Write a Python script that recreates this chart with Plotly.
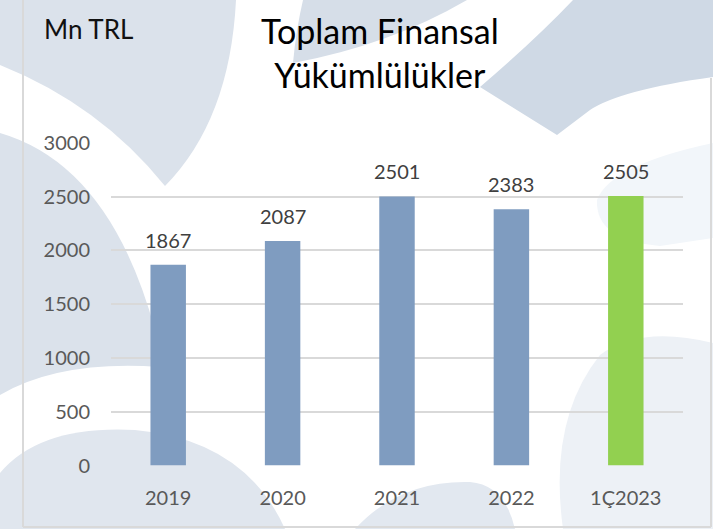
import plotly.graph_objects as go

# ---- data ----
categories = ["2019", "2020", "2021", "2022", "1Ç2023"]
values = [1867, 2087, 2501, 2383, 2505]
bar_colors = ["#7f9cc0", "#7f9cc0", "#7f9cc0", "#7f9cc0", "#92d050"]
y_ticks = [0, 500, 1000, 1500, 2000, 2500, 3000]
title_text = "Toplam Finansal<br>Yükümlülükler"
unit_text = "Mn TRL"

W, H = 713, 529
FONT = "Lato, 'Noto Sans', sans-serif"


def px(x):
    return x / W


def py(y):
    return 1 - y / H


def path(cmds):
    out = []
    for c in cmds:
        op, nums = c[0], c[1:]
        pts = []
        for i in range(0, len(nums), 2):
            pts.append(f"{px(nums[i]):.5f},{py(nums[i+1]):.5f}")
        out.append(op + " " + " ".join(pts))
    return " ".join(out)


bg_shapes = [
    # top-left leaf
    ("#dbe2eb", [("M", 0, 0), ("L", 236, 0), ("Q", 230, 120, 165, 186), ("Q", 100, 105, 0, 65), ("Z",)]),
    # left big shape
    ("#dbe2eb", [("M", 0, 133), ("Q", 110, 165, 155, 330), ("L", 160, 367), ("Q", 60, 360, 0, 395), ("Z",)]),
    # bottom-left dome
    ("#e0e6ee", [("M", 0, 473), ("Q", 40, 425, 135, 430), ("Q", 245, 440, 285, 529), ("L", 0, 529), ("Z",)]),
    # bottom-center dome
    ("#e2e8f0", [("M", 355, 529), ("Q", 400, 480, 470, 482), ("Q", 505, 485, 515, 529), ("Z",)]),
    # right light circle
    ("#edf1f6", [("M", 563, 529), ("Q", 548, 420, 600, 355), ("Q", 640, 325, 713, 343), ("L", 713, 529), ("Z",)]),
    # right very light shape
    ("#f2f6fa", [("M", 713, 143), ("Q", 610, 165, 597, 200), ("Q", 595, 240, 660, 246), ("L", 713, 238), ("Z",)]),
    # title strip
    ("#d6dee8", [("M", 303, 0), ("L", 467, 0), ("Q", 390, 45, 293, 63), ("Q", 296, 30, 303, 0), ("Z",)]),
    # big top-right shape
    ("#cfd9e5", [("M", 573, 0), ("L", 713, 0), ("L", 713, 77), ("Q", 620, 90, 590, 110),
                 ("L", 557, 135), ("L", 480, 87), ("Q", 535, 40, 573, 0), ("Z",)]),
]

shapes = []
for color, cmds in bg_shapes:
    shapes.append(dict(type="path", xref="paper", yref="paper", path=path(cmds),
                       fillcolor=color, line=dict(width=0), layer="below"))

# frame lines
frame_col = "#d9d9d9"
shapes.append(dict(type="line", xref="paper", yref="paper", x0=px(23), x1=px(23), y0=py(0), y1=py(527),
                   line=dict(color=frame_col, width=2), layer="below"))
shapes.append(dict(type="line", xref="paper", yref="paper", x0=px(23), x1=px(711), y0=py(527), y1=py(527),
                   line=dict(color=frame_col, width=2), layer="below"))
shapes.append(dict(type="line", xref="paper", yref="paper", x0=px(711), x1=px(711), y0=py(78), y1=py(527),
                   line=dict(color=frame_col, width=2), layer="below"))

fig = go.Figure()
fig.add_trace(go.Bar(x=categories, y=values, marker=dict(color=bar_colors, line=dict(width=0)),
                     width=0.31, hoverinfo="x+y"))

annotations = []
for i, v in enumerate(values):
    annotations.append(dict(x=i, y=v, xref="x", yref="y", text=str(v), showarrow=False,
                            yanchor="bottom", yshift=11,
                            font=dict(family=FONT, size=20, color="#404040")))

annotations.append(dict(x=px(380), y=py(52), xref="paper", yref="paper", text=title_text,
                        showarrow=False, xanchor="center", yanchor="middle", align="center",
                        font=dict(family=FONT, size=34, color="#000000")))
annotations.append(dict(x=px(42), y=py(29), xref="paper", yref="paper", text=unit_text,
                        showarrow=False, xanchor="left", yanchor="middle",
                        font=dict(family=FONT, size=26, color="#111111")))

fig.update_layout(
    width=W, height=H,
    margin=dict(l=0, r=0, t=0, b=0, pad=0, autoexpand=False),
    paper_bgcolor="#ffffff",
    plot_bgcolor="rgba(0,0,0,0)",
    showlegend=False,
    shapes=shapes,
    annotations=annotations,
    xaxis=dict(domain=[px(111), px(683)], type="category", categoryorder="array",
               categoryarray=categories, range=[-0.5, 4.5], showline=False, showgrid=False,
               zeroline=False, ticks="", ticklabelstandoff=18, automargin=False,
               tickfont=dict(family=FONT, size=20, color="#595959")),
    yaxis=dict(domain=[py(465.5), py(142.5)], range=[0, 3003], tickvals=y_ticks,
               showgrid=True, gridcolor="#d9d9d9", gridwidth=2, zeroline=False, showline=False,
               ticks="", ticklabelstandoff=20, automargin=False,
               tickfont=dict(family=FONT, size=20, color="#595959")),
)

fig.write_html("out.html", config={"displayModeBar": False},
               post_script="document.body.style.margin='0';")
